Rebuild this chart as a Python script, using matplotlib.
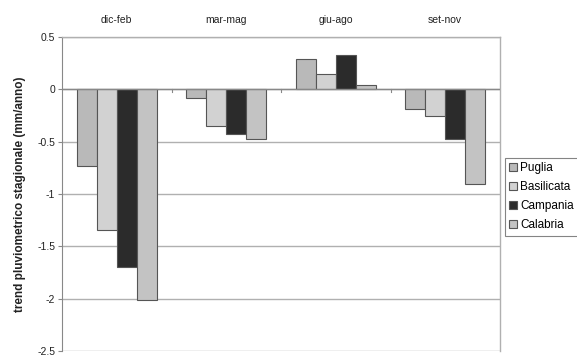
import matplotlib
matplotlib.use("Agg")
import matplotlib.pyplot as plt
import numpy as np

plt.rcParams['font.family'] = ['Liberation Sans', 'DejaVu Sans']

categories = ["dic-feb", "mar-mag", "giu-ago", "set-nov"]
series_names = ["Puglia", "Basilicata", "Campania", "Calabria"]
puglia = [-0.73, -0.08, 0.29, -0.19]
basilicata = [-1.34, -0.35, 0.15, -0.25]
campania = [-1.70, -0.43, 0.33, -0.47]
calabria = [-2.01, -0.47, 0.04, -0.90]
yticks = [0.5, 0, -0.5, -1, -1.5, -2, -2.5]
ytick_labels = ["0.5", "0", "-0.5", "-1", "-1.5", "-2", "-2.5"]

values = [puglia, basilicata, campania, calabria]
colors = ["#b9b9b9", "#d2d2d2", "#2b2b2b", "#c3c3c3"]

fig = plt.figure(figsize=(5.77, 3.56), dpi=100)
ax = fig.add_axes([62/577, 1-351/356, 438/577, (351-37)/356])

x = np.arange(len(categories))
w = 20/110
for i, (name, vals) in enumerate(zip(series_names, values)):
    ax.bar(x - 2*w + (i+0.5)*w, vals, width=w,
           color=colors[i], edgecolor="#555555", linewidth=0.8, label=name, zorder=3)

ax.set_xlim(-0.5, 3.5)
ax.set_ylim(-2.5, 0.5)
ax.set_yticks(yticks)
ax.set_yticklabels(ytick_labels, fontsize=7.5, color="#222222")
ax.yaxis.grid(True, color="#b0b0b0", linewidth=1.0, zorder=0)
ax.set_axisbelow(True)

ax.set_xticks([])
for xi, c in zip(x, categories):
    ax.text(xi, 0.5 + 0.16, c, ha="center", va="center", fontsize=7.5, color="#222222")

for b in [0.5, 1.5, 2.5]:
    ax.plot([b, b], [0, -0.03], color="#888888", linewidth=0.8, zorder=2)
ax.axhline(0, color="#888888", linewidth=1.0, zorder=4)

for s in ["top", "right"]:
    ax.spines[s].set_color("#b0b0b0")
    ax.spines[s].set_linewidth(1.0)
ax.spines["bottom"].set_visible(False)
ax.spines["left"].set_color("#888888")
ax.tick_params(axis="y", length=3, color="#888888", pad=2)

ax.set_ylabel("trend pluviometrico stagionale (mm/anno)", fontsize=8.5,
              fontweight="bold", color="#222222", labelpad=8)

leg = fig.legend(loc="upper left", bbox_to_anchor=(505/577, 1-158/356),
                 fontsize=8.5, frameon=True, fancybox=False, handlelength=0.7,
                 handleheight=0.7, handletextpad=0.25, borderpad=0.35,
                 labelspacing=0.6, borderaxespad=0)
leg.get_frame().set_edgecolor("#666666")
leg.get_frame().set_linewidth(0.8)

fig.savefig("out.png", dpi=100)
